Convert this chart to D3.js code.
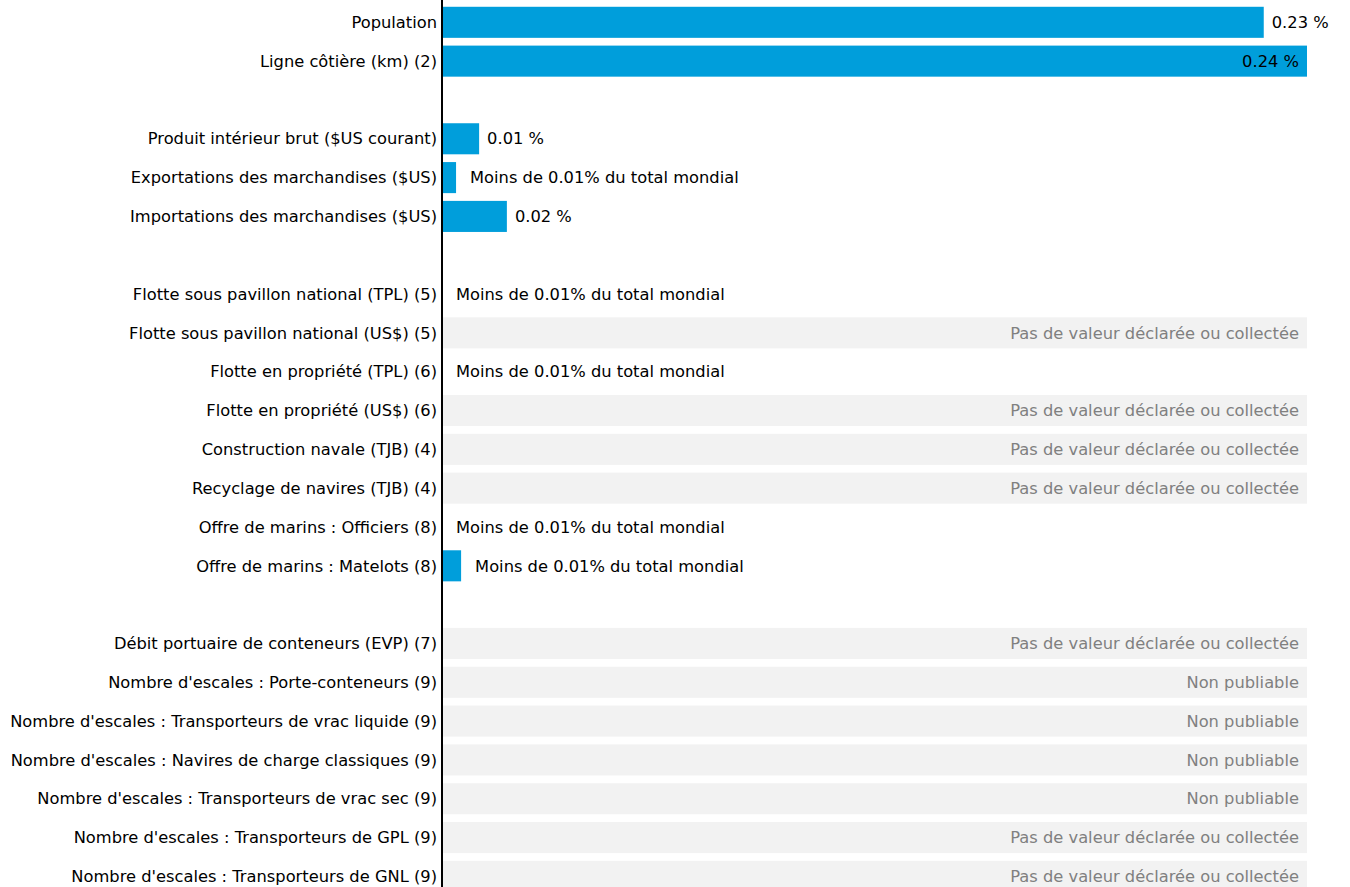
<!DOCTYPE html>
<html><head><meta charset="utf-8">
<script src="https://cdn.jsdelivr.net/npm/d3@7"></script>
<style>
html,body{margin:0;padding:0;background:#fff;}
svg{display:block;}
text{font-family:"DejaVu Sans",sans-serif;}
</style></head>
<body><svg id="chart" width="1350" height="887"></svg>
<script>
// Row labels ("" = spacer row)
const categories = [
  "Population",
  "Ligne côtière (km) (2)",
  "",
  "Produit intérieur brut ($US courant)",
  "Exportations des marchandises ($US)",
  "Importations des marchandises ($US)",
  "",
  "Flotte sous pavillon national (TPL) (5)",
  "Flotte sous pavillon national (US$) (5)",
  "Flotte en propriété (TPL) (6)",
  "Flotte en propriété (US$) (6)",
  "Construction navale (TJB) (4)",
  "Recyclage de navires (TJB) (4)",
  "Offre de marins : Officiers (8)",
  "Offre de marins : Matelots (8)",
  "",
  "Débit portuaire de conteneurs (EVP) (7)",
  "Nombre d'escales : Porte-conteneurs (9)",
  "Nombre d'escales : Transporteurs de vrac liquide (9)",
  "Nombre d'escales : Navires de charge classiques (9)",
  "Nombre d'escales : Transporteurs de vrac sec (9)",
  "Nombre d'escales : Transporteurs de GPL (9)",
  "Nombre d'escales : Transporteurs de GNL (9)"
];
// Share of world total, in percent (null = no bar)
const values = [
  0.228, 0.24, null,
  0.0103, 0.0039, 0.018, null,
  0, null, 0, null, null, null, 0, 0.0053, null,
  null, null, null, null, null, null, null
];
// Status of each row: "v" value, "lt" below 0.01%, "nv" no value, "np" not publishable, "" spacer
const statuses = [
  "v", "v", "",
  "v", "lt", "v", "",
  "lt", "nv", "lt", "nv", "nv", "nv", "lt", "lt", "",
  "nv", "np", "np", "np", "np", "nv", "nv"
];
const valueLabels = [
  "0.23 %", "0.24 %", "",
  "0.01 %", "", "0.02 %", "",
  "", "", "", "", "", "", "", "", "",
  "", "", "", "", "", "", ""
];
const statusTexts = {
  lt: "Moins de 0.01% du total mondial",
  nv: "Pas de valeur déclarée ou collectée",
  np: "Non publiable"
};
const xMax = 0.24;

const svg = d3.select("#chart");
const FS = 16.3;
const axisX = 442, rightX = 1307;
const x = d3.scaleLinear().domain([0, xMax]).range([axisX, rightX]);
const idx = d3.range(categories.length);
const y = d3.scaleBand().domain(idx).range([2.9, 895.8]).paddingInner(0.2).paddingOuter(0.1);
const bw = y.bandwidth();

const rows = idx.map(i => ({i, cat: categories[i], v: values[i], s: statuses[i], lab: valueLabels[i]}));

// grey background for missing rows
svg.append("g").selectAll("rect")
  .data(rows.filter(d => d.s === "nv" || d.s === "np"))
  .join("rect")
  .attr("x", x(0)).attr("y", d => y(d.i))
  .attr("width", x(xMax) - x(0)).attr("height", bw)
  .attr("fill", "#f2f2f2");

svg.append("g").selectAll("text")
  .data(rows.filter(d => d.s === "nv" || d.s === "np"))
  .join("text")
  .attr("x", x(xMax) - 8).attr("y", d => y(d.i) + bw / 2)
  .attr("dy", "0.35em").attr("text-anchor", "end")
  .attr("font-size", FS).attr("fill", "#808080")
  .text(d => statusTexts[d.s]);

// bars
svg.append("g").selectAll("rect")
  .data(rows.filter(d => d.v !== null && d.v > 0))
  .join("rect")
  .attr("x", x(0)).attr("y", d => y(d.i))
  .attr("width", d => x(d.v) - x(0)).attr("height", bw)
  .attr("fill", "#009edb");

// value labels
svg.append("g").selectAll("text")
  .data(rows.filter(d => d.s === "v" || d.s === "lt"))
  .join("text")
  .each(function(d) {
    const t = d3.select(this);
    const end = x(d.v || 0);
    const txt = d.s === "lt" ? statusTexts.lt : d.lab;
    const inside = d.v >= xMax;
    t.attr("y", y(d.i) + bw / 2).attr("dy", "0.35em")
     .attr("font-size", FS).attr("fill", "#000")
     .attr("x", inside ? end - 8 : end + (d.s === "lt" ? 14 : 8))
     .attr("text-anchor", inside ? "end" : "start")
     .text(txt);
  });

// category labels
svg.append("g").selectAll("text")
  .data(rows.filter(d => d.cat !== ""))
  .join("text")
  .attr("x", axisX - 5).attr("y", d => y(d.i) + bw / 2)
  .attr("dy", "0.35em").attr("text-anchor", "end")
  .attr("font-size", FS).attr("fill", "#000")
  .text(d => d.cat);

// axis line
svg.append("line")
  .attr("x1", axisX).attr("x2", axisX).attr("y1", 0).attr("y2", 887)
  .attr("stroke", "#000").attr("stroke-width", 2);
</script></body></html>
